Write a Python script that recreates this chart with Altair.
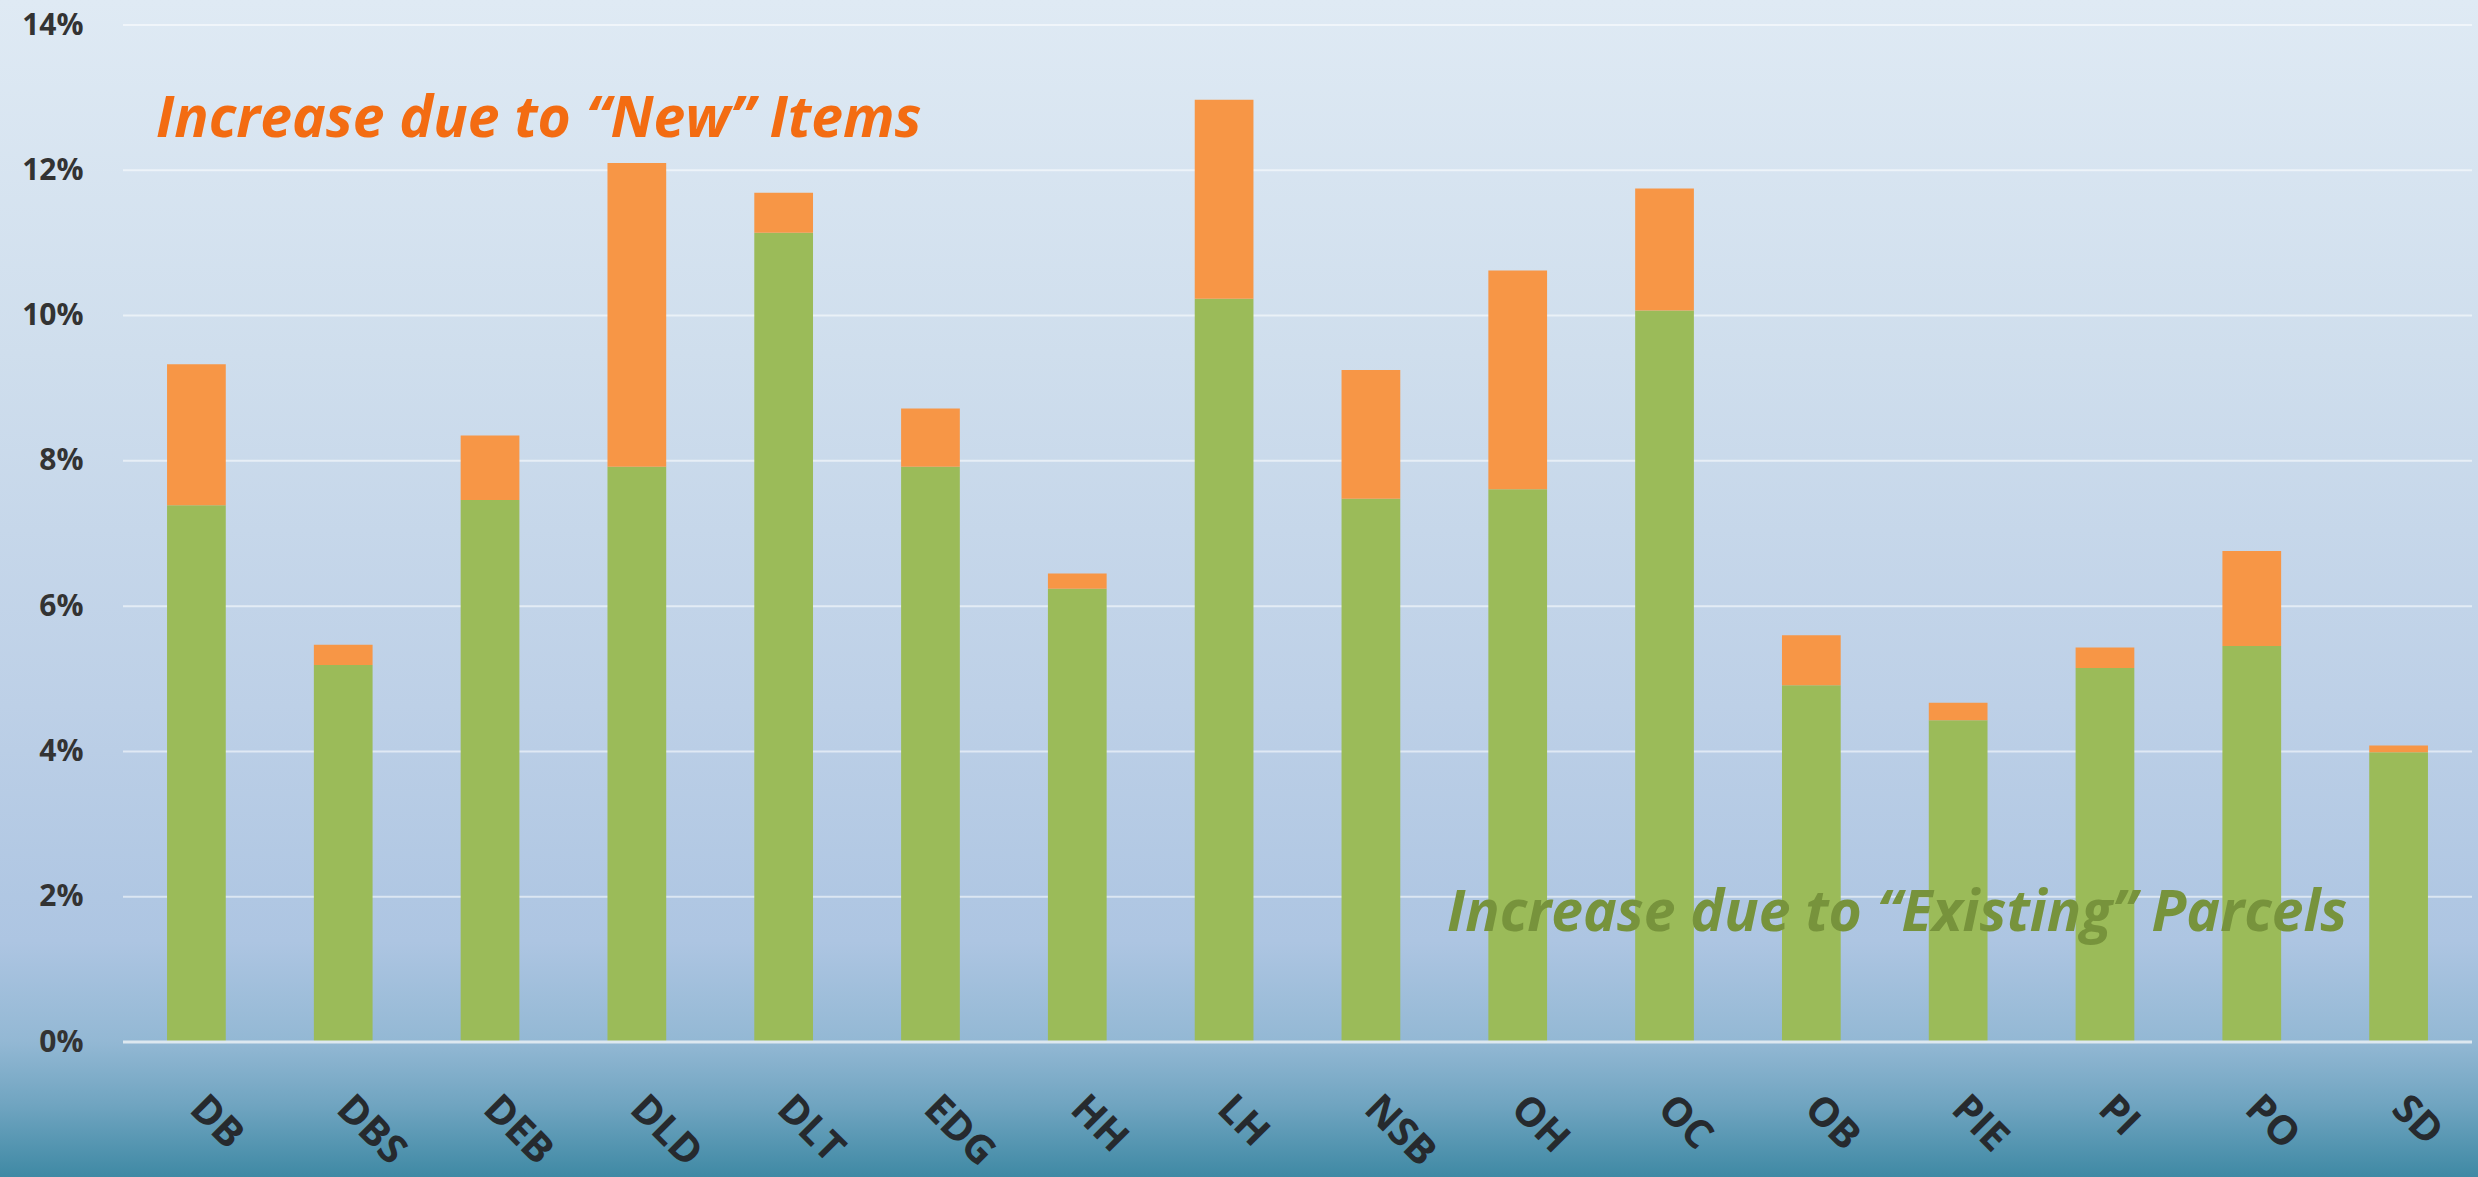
import altair as alt
import pandas as pd

# ---- data ----
categories = ["DB", "DBS", "DEB", "DLD", "DLT", "EDG", "HH", "LH",
              "NSB", "OH", "OC", "OB", "PIE", "PI", "PO", "SD"]
existing = [7.39, 5.19, 7.46, 7.92, 11.14, 7.92, 6.24, 10.23,
            7.48, 7.61, 10.07, 4.91, 4.43, 5.15, 5.45, 3.99]
new_items = [1.94, 0.28, 0.89, 4.18, 0.55, 0.80, 0.21, 2.74,
             1.77, 3.01, 1.68, 0.69, 0.24, 0.28, 1.31, 0.09]
y_ticks = [0, 2, 4, 6, 8, 10, 12, 14]
label_new = "Increase due to \u201cNew\u201d Items"
label_existing = "Increase due to \u201cExisting\u201d Parcels"

df = pd.DataFrame({"cat": categories, "existing": existing, "new": new_items})
df["total"] = df["existing"] + df["new"]

# ---- layout ----
W, H = 2349, 1017
PAD = {"left": 123, "top": 25, "right": 6, "bottom": 135}

GREEN = "#9bbb59"
ORANGE = "#f79646"

yscale = alt.Scale(domain=[0, 14], nice=False, zero=True)
yaxis = alt.Axis(
    title=None, values=y_ticks, labelExpr="datum.value + '%'",
    labelFont="Open Sans", labelFontSize=30, labelFontWeight="bold",
    labelColor="#333333", labelPadding=40, ticks=False, domain=False,
    grid=False, zindex=1,
)
xscale = alt.Scale(paddingInner=0.6, paddingOuter=0.3)
xaxis = alt.Axis(
    title=None, labelAngle=45, labelAlign="left", labelBaseline="middle",
    labelFont="Open Sans", labelFontSize=40, labelFontWeight="bold",
    labelColor="#262a2e", labelPadding=60, labelOffset=0,
    ticks=False, domain=False, grid=False, zindex=1,
)

gradient = alt.LinearGradient(
    gradient="linear",
    stops=[
        alt.GradientStop(color="#dfeaf4", offset=0.0),
        alt.GradientStop(color="#cfdeed", offset=0.3),
        alt.GradientStop(color="#bdd0e7", offset=0.6),
        alt.GradientStop(color="#adc5e2", offset=0.8),
        alt.GradientStop(color="#93b8d4", offset=0.885),
        alt.GradientStop(color="#6fa4c0", offset=0.94),
        alt.GradientStop(color="#3f89a4", offset=1.0),
    ],
    x1=0, x2=0, y1=0, y2=1,
)

background = alt.Chart(pd.DataFrame({"a": [0]})).mark_rect(fill=gradient).encode(
    x=alt.value(-PAD["left"]), x2=alt.value(W + PAD["right"]),
    y=alt.value(-PAD["top"]), y2=alt.value(H + PAD["bottom"]),
)

grid = alt.Chart(pd.DataFrame({"v": y_ticks})).mark_rule(
    color="#ffffff", opacity=0.55, strokeWidth=2
).encode(y=alt.Y("v:Q", scale=yscale, axis=yaxis))

base = alt.Chart(df)
green_bars = base.mark_bar(color=GREEN).encode(
    x=alt.X("cat:N", sort=categories, scale=xscale, axis=xaxis),
    y=alt.Y("existing:Q", scale=yscale, axis=yaxis),
    y2=alt.Y2(datum=0),
)
orange_bars = base.mark_bar(color=ORANGE).encode(
    x=alt.X("cat:N", sort=categories, scale=xscale, axis=xaxis),
    y=alt.Y("existing:Q", scale=yscale, axis=yaxis),
    y2="total:Q",
)

baseline = alt.Chart(pd.DataFrame({"v": [0]})).mark_rule(
    color="#dde8f0", strokeWidth=3
).encode(y=alt.Y("v:Q", scale=yscale, axis=yaxis))

text_new = alt.Chart(pd.DataFrame({"t": [label_new]})).mark_text(
    font="Open Sans", fontSize=57, fontWeight="bold", fontStyle="italic",
    color="#f36c12", align="left", baseline="alphabetic",
).encode(text="t:N", x=alt.value(33), y=alt.value(112))

text_existing = alt.Chart(pd.DataFrame({"t": [label_existing]})).mark_text(
    font="Open Sans", fontSize=57, fontWeight="bold", fontStyle="italic",
    color="#77933c", align="left", baseline="alphabetic",
).encode(text="t:N", x=alt.value(1324), y=alt.value(906))

chart = alt.layer(
    background, grid, green_bars, orange_bars, baseline, text_new, text_existing
).properties(
    width=W, height=H, padding=PAD,
    autosize=alt.AutoSizeParams(type="none"),
    background="#9fbfd9",
).configure_view(stroke=None)

chart.save("out.html", embed_options={"renderer": "svg", "actions": False})
